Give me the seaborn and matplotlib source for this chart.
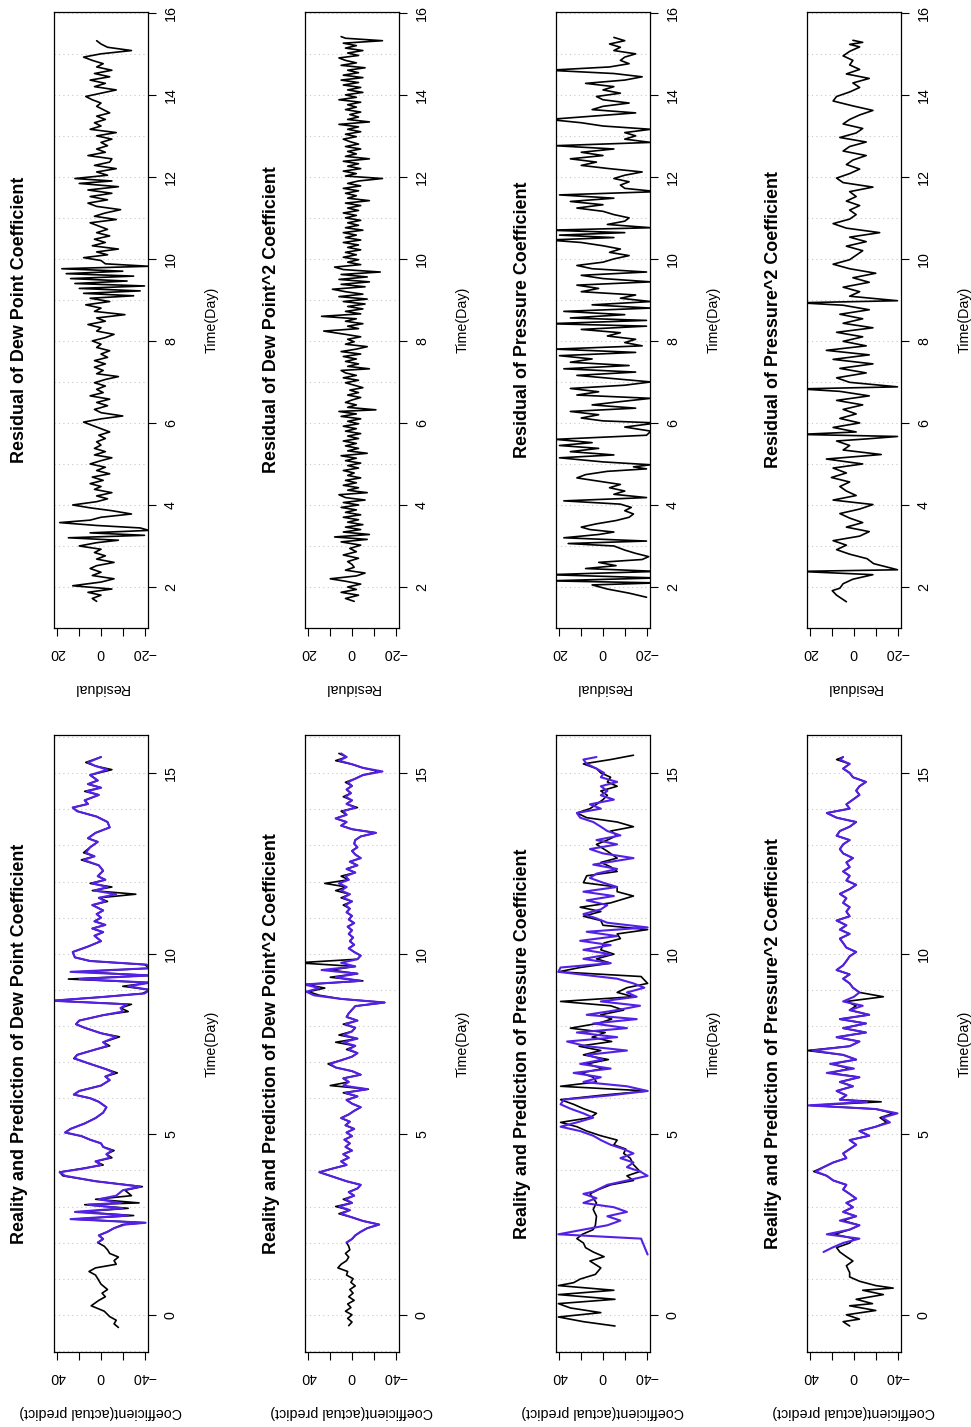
import numpy as np
import matplotlib
matplotlib.use("Agg")
import matplotlib.pyplot as plt
from matplotlib.ticker import MultipleLocator
import seaborn as sns

sns.set_style("white")
plt.rcParams['font.family'] = ['Liberation Sans', 'DejaVu Sans']
plt.rcParams.update({'text.color': 'black', 'axes.labelcolor': 'black',
                     'xtick.color': 'black', 'ytick.color': 'black'})

# ---- data: (day, value) ----
dew_actual = [(-0.35,-16),(-0.25,-12),(-0.15,-14),(-0.05,-8),(0.1,-3),(0.25,9),(0.4,2),(0.5,-4),(0.6,-1),(0.7,-6),(0.85,0),(1.0,3),(1.1,5),(1.2,11),(1.3,5),(1.4,-14),(1.5,-12),(1.6,-16),(1.7,-8),(1.8,-6),(1.9,-3),(2.0,3),(2.1,-2),(2.2,2),(2.3,-6),(2.4,-12),(2.5,-20),(2.55,-40),(2.65,25),(2.75,-30),(2.85,20),(2.95,-25),(3.05,15),(3.1,-35),(3.2,5),(3.3,-28),(3.45,-22),(3.55,-38),(3.7,5),(3.85,35),(3.95,38),(4.05,18),(4.15,-2),(4.25,5),(4.35,-10),(4.45,-5),(4.55,-12),(4.65,-2),(4.75,0),(4.85,10),(4.95,18),(5.05,33),(5.15,28),(5.3,15),(5.45,5),(5.6,-2),(5.75,-5),(5.9,2),(6.0,10),(6.1,25),(6.2,20),(6.35,0),(6.5,-8),(6.6,-4),(6.7,-15),(6.8,-5),(6.95,10),(7.1,25),(7.2,22),(7.35,5),(7.45,-8),(7.55,-2),(7.7,-17),(7.8,0),(7.95,15),(8.05,23),(8.15,20),(8.3,-2),(8.4,-25),(8.5,-18),(8.6,-28),(8.7,45),(8.8,0),(8.9,-38),(9.0,-45),(9.1,-20),(9.2,-45),(9.3,30),(9.4,-45),(9.5,20),(9.6,-45),(9.7,-40),(9.8,10),(9.9,24),(10.05,26),(10.2,12),(10.35,0),(10.5,6),(10.6,-2),(10.7,8),(10.8,-4),(10.9,6),(11.0,0),(11.1,4),(11.2,-2),(11.35,8),(11.45,-6),(11.55,2),(11.65,-32),(11.75,8),(11.85,-10),(11.95,10),(12.05,-4),(12.15,3),(12.3,-2),(12.45,2),(12.6,18),(12.7,6),(12.8,16),(12.95,10),(13.1,3),(13.2,12),(13.35,5),(13.5,-8),(13.65,-6),(13.8,4),(13.95,22),(14.05,26),(14.15,12),(14.25,15),(14.4,2),(14.5,15),(14.6,0),(14.7,12),(14.8,3),(14.95,10),(15.1,-10),(15.2,5),(15.3,14),(15.45,0)]
dew_pred = [(2.0,3),(2.1,-2),(2.2,2),(2.3,-6),(2.4,-12),(2.5,-22),(2.55,-41),(2.65,28),(2.75,-25),(2.85,24),(2.95,-20),(3.05,12),(3.1,-18),(3.2,2),(3.3,-14),(3.45,-20),(3.55,-36),(3.7,5),(3.85,33),(3.95,38),(4.05,16),(4.15,0),(4.25,5),(4.35,-8),(4.45,-5),(4.55,-10),(4.65,-2),(4.75,0),(4.85,10),(4.95,18),(5.05,33),(5.15,28),(5.3,15),(5.45,5),(5.6,-2),(5.75,-5),(5.9,2),(6.0,10),(6.1,25),(6.2,20),(6.35,0),(6.5,-8),(6.6,-4),(6.7,-12),(6.8,-5),(6.95,10),(7.1,24),(7.2,22),(7.35,5),(7.45,-6),(7.55,-2),(7.7,-14),(7.8,0),(7.95,15),(8.05,23),(8.15,20),(8.3,-2),(8.4,-20),(8.5,-18),(8.6,-24),(8.7,45),(8.8,0),(8.9,-40),(9.0,-45),(9.1,-25),(9.2,-45),(9.3,20),(9.4,-45),(9.5,28),(9.6,-45),(9.7,-42),(9.8,10),(9.9,24),(10.05,26),(10.2,12),(10.35,0),(10.5,6),(10.6,-2),(10.7,8),(10.8,-4),(10.9,6),(11.0,0),(11.1,4),(11.2,-2),(11.35,8),(11.45,-4),(11.55,2),(11.65,-14),(11.75,6),(11.85,-6),(11.95,8),(12.05,-4),(12.15,3),(12.3,-2),(12.45,2),(12.6,16),(12.7,6),(12.8,14),(12.95,10),(13.1,3),(13.2,12),(13.35,5),(13.5,-8),(13.65,-6),(13.8,4),(13.95,22),(14.05,26),(14.15,12),(14.25,15),(14.4,2),(14.5,13),(14.6,0),(14.7,12),(14.8,3),(14.95,10),(15.1,-6),(15.2,5),(15.3,12),(15.45,0)]
dew_resid = [(1.65,2),(1.72,4),(1.8,0),(1.87,6),(1.95,-5),(2.03,13),(2.12,0),(2.2,-6),(2.28,4),(2.36,0),(2.45,5),(2.52,2),(2.6,-6),(2.68,2),(2.76,-2),(2.84,3),(2.92,0),(3.0,10),(3.08,2),(3.14,-8),(3.2,15),(3.26,-20),(3.32,5),(3.38,-22),(3.44,-18),(3.5,2),(3.57,19),(3.63,5),(3.7,0),(3.78,-14),(3.86,-5),(3.93,5),(4.0,13),(4.08,2),(4.15,-3),(4.22,2),(4.3,-5),(4.38,3),(4.45,0),(4.52,5),(4.6,-1),(4.68,4),(4.76,-4),(4.84,2),(4.92,-2),(5.0,5),(5.08,0),(5.15,-5),(5.22,3),(5.3,-2),(5.38,3),(5.46,0),(5.54,2),(5.62,-2),(5.7,1),(5.78,-4),(5.86,0),(5.94,4),(6.02,8),(6.1,0),(6.17,-10),(6.25,0),(6.33,3),(6.42,-3),(6.5,2),(6.58,-4),(6.66,5),(6.74,-1),(6.82,2),(6.9,-2),(6.98,3),(7.06,-2),(7.13,-8),(7.2,2),(7.28,-1),(7.36,3),(7.44,-2),(7.52,3),(7.6,-3),(7.68,0),(7.76,-4),(7.84,2),(7.92,0),(8.0,4),(8.08,-2),(8.16,-6),(8.24,2),(8.32,0),(8.4,6),(8.48,-2),(8.56,2),(8.64,-11),(8.72,3),(8.8,0),(8.88,7),(8.96,-4),(9.04,5),(9.1,-15),(9.16,8),(9.22,-18),(9.28,10),(9.34,-20),(9.4,12),(9.46,-12),(9.52,14),(9.58,-15),(9.64,16),(9.7,-10),(9.76,18),(9.82,-22),(9.88,-2),(9.96,0),(10.03,8),(10.1,-3),(10.17,2),(10.24,-8),(10.32,4),(10.4,-2),(10.48,3),(10.56,-4),(10.64,2),(10.72,-3),(10.8,1),(10.88,5),(10.96,-7),(11.04,3),(11.12,-2),(11.2,-9),(11.28,2),(11.36,6),(11.44,-3),(11.52,5),(11.6,-5),(11.68,6),(11.76,-8),(11.84,10),(11.9,-5),(11.96,12),(12.04,-3),(12.12,2),(12.2,-7),(12.28,3),(12.36,-4),(12.44,-5),(12.52,6),(12.6,-2),(12.68,2),(12.76,-3),(12.84,0),(12.92,-5),(13.0,2),(13.08,-7),(13.16,5),(13.24,0),(13.32,3),(13.4,-2),(13.48,2),(13.56,-4),(13.64,-1),(13.72,2),(13.8,0),(13.88,4),(13.96,7),(14.04,0),(14.12,-7),(14.2,3),(14.28,-2),(14.36,5),(14.44,-4),(14.52,3),(14.6,-5),(14.68,2),(14.76,-1),(14.84,4),(14.92,8),(15.0,0),(15.08,-14),(15.16,-3),(15.24,0),(15.32,2)]

dew2_actual = [(-0.3,3),(-0.2,0),(-0.1,4),(0.0,0),(0.1,6),(0.2,1),(0.3,4),(0.4,-2),(0.5,3),(0.6,-1),(0.7,2),(0.8,-3),(0.9,1),(1.0,-1),(1.1,5),(1.2,4),(1.3,13),(1.4,10),(1.5,5),(1.6,3),(1.7,6),(1.8,2),(1.9,3),(2.0,5),(2.1,0),(2.2,-3),(2.3,-8),(2.4,-14),(2.5,-25),(2.6,-10),(2.7,0),(2.8,12),(2.9,2),(3.0,15),(3.1,0),(3.2,8),(3.3,-2),(3.4,3),(3.5,-5),(3.6,-8),(3.7,5),(3.8,15),(3.95,30),(4.05,18),(4.15,5),(4.25,10),(4.35,3),(4.45,8),(4.55,0),(4.65,6),(4.75,2),(4.85,7),(4.95,0),(5.05,5),(5.15,-2),(5.25,6),(5.35,2),(5.45,10),(5.55,3),(5.65,-2),(5.75,-8),(5.85,0),(5.95,5),(6.05,-5),(6.15,8),(6.25,-15),(6.35,20),(6.45,3),(6.55,8),(6.65,-8),(6.75,0),(6.85,15),(6.95,22),(7.05,10),(7.15,0),(7.25,-5),(7.35,5),(7.45,-3),(7.55,15),(7.65,-5),(7.75,12),(7.85,0),(7.95,-3),(8.05,8),(8.15,-5),(8.25,5),(8.35,3),(8.45,0),(8.55,-3),(8.65,-30),(8.75,10),(8.85,30),(8.95,40),(9.05,25),(9.15,42),(9.25,-10),(9.35,20),(9.45,-5),(9.55,20),(9.65,-3),(9.75,50),(9.85,-5),(9.95,-8),(10.05,-2),(10.15,3),(10.25,-2),(10.35,2),(10.45,-1),(10.55,3),(10.65,0),(10.75,4),(10.85,-2),(10.95,3),(11.05,0),(11.15,5),(11.25,2),(11.35,8),(11.45,0),(11.55,10),(11.65,2),(11.75,15),(11.85,5),(11.95,25),(12.05,3),(12.15,10),(12.25,-3),(12.35,5),(12.45,-5),(12.55,2),(12.65,-8),(12.75,-3),(12.85,0),(12.95,-5),(13.05,-2),(13.15,-3),(13.25,-8),(13.35,-22),(13.45,0),(13.55,10),(13.65,5),(13.75,15),(13.85,5),(13.95,10),(14.05,-5),(14.15,5),(14.25,0),(14.35,8),(14.45,1),(14.55,5),(14.65,0),(14.75,6),(14.85,-3),(14.95,-10),(15.05,-25),(15.15,-10),(15.25,0),(15.35,15),(15.45,5),(15.55,12)]
dew2_pred = [(2.0,5),(2.1,0),(2.2,-3),(2.3,-8),(2.4,-14),(2.5,-25),(2.6,-10),(2.7,0),(2.8,10),(2.9,2),(3.0,12),(3.1,0),(3.2,6),(3.3,-2),(3.4,3),(3.5,-5),(3.6,-8),(3.7,5),(3.8,15),(3.95,30),(4.05,18),(4.15,5),(4.25,10),(4.35,3),(4.45,8),(4.55,0),(4.65,6),(4.75,2),(4.85,7),(4.95,0),(5.05,5),(5.15,-2),(5.25,6),(5.35,2),(5.45,10),(5.55,3),(5.65,-2),(5.75,-8),(5.85,0),(5.95,5),(6.05,-5),(6.15,6),(6.25,-14),(6.35,8),(6.45,3),(6.55,8),(6.65,-8),(6.75,0),(6.85,15),(6.95,20),(7.05,10),(7.15,0),(7.25,-5),(7.35,3),(7.45,-3),(7.55,8),(7.65,-5),(7.75,8),(7.85,0),(7.95,-3),(8.05,6),(8.15,-5),(8.25,5),(8.35,3),(8.45,0),(8.55,-3),(8.65,-30),(8.75,10),(8.85,35),(8.95,42),(9.05,30),(9.15,44),(9.25,-8),(9.35,15),(9.45,-5),(9.55,28),(9.65,-3),(9.75,10),(9.85,-5),(9.95,-8),(10.05,-2),(10.15,3),(10.25,-2),(10.35,2),(10.45,-1),(10.55,3),(10.65,0),(10.75,4),(10.85,-2),(10.95,3),(11.05,0),(11.15,5),(11.25,2),(11.35,6),(11.45,0),(11.55,8),(11.65,2),(11.75,10),(11.85,5),(11.95,12),(12.05,3),(12.15,6),(12.25,-3),(12.35,5),(12.45,-5),(12.55,2),(12.65,-8),(12.75,-3),(12.85,0),(12.95,-5),(13.05,-2),(13.15,-3),(13.25,-8),(13.35,-22),(13.45,0),(13.55,10),(13.65,5),(13.75,15),(13.85,5),(13.95,8),(14.05,-3),(14.15,5),(14.25,0),(14.35,6),(14.45,1),(14.55,5),(14.65,0),(14.75,4),(14.85,-3),(14.95,-10),(15.05,-28),(15.15,-10),(15.25,0),(15.35,12),(15.45,5),(15.55,10)]
dew2_resid = [(1.65,-1),(1.72,3),(1.8,-3),(1.87,5),(1.94,-2),(2.0,2),(2.07,-4),(2.14,3),(2.2,10),(2.27,-2),(2.34,-6),(2.41,3),(2.48,-1),(2.55,0),(2.62,2),(2.7,-3),(2.78,4),(2.86,-2),(2.94,1),(3.02,-4),(3.1,5),(3.16,-7),(3.22,8),(3.28,-8),(3.34,4),(3.4,-4),(3.46,3),(3.52,-5),(3.58,2),(3.64,-3),(3.7,4),(3.76,-4),(3.82,3),(3.88,-2),(3.94,5),(4.0,-3),(4.06,4),(4.12,-6),(4.18,3),(4.25,6),(4.3,-7),(4.36,2),(4.42,-3),(4.48,4),(4.54,-2),(4.6,3),(4.66,-4),(4.72,2),(4.78,-1),(4.84,4),(4.9,-3),(4.96,2),(5.02,-4),(5.08,3),(5.14,-2),(5.2,5),(5.26,-7),(5.32,2),(5.38,-3),(5.44,3),(5.5,-2),(5.56,4),(5.62,-3),(5.68,2),(5.74,-4),(5.8,3),(5.86,-2),(5.92,4),(5.98,-3),(6.04,2),(6.1,-4),(6.16,5),(6.22,-2),(6.28,6),(6.32,-11),(6.38,2),(6.44,-2),(6.5,3),(6.56,0),(6.62,-4),(6.68,2),(6.74,-3),(6.8,1),(6.86,-5),(6.92,-1),(6.98,3),(7.04,-3),(7.1,4),(7.16,-2),(7.22,3),(7.28,5),(7.32,-8),(7.38,2),(7.44,-3),(7.5,3),(7.56,-2),(7.62,4),(7.68,-4),(7.74,5),(7.8,-2),(7.86,-7),(7.92,3),(7.98,-1),(8.04,2),(8.1,-4),(8.16,3),(8.24,13),(8.3,-3),(8.36,2),(8.42,-5),(8.48,3),(8.54,-2),(8.6,14),(8.66,-4),(8.72,3),(8.78,-5),(8.84,2),(8.9,-6),(8.96,4),(9.02,-7),(9.08,6),(9.14,-5),(9.2,3),(9.26,9),(9.32,-6),(9.38,5),(9.44,-8),(9.5,6),(9.56,-7),(9.62,5),(9.68,-13),(9.74,4),(9.8,8),(9.86,-4),(9.92,2),(9.98,-3),(10.04,4),(10.1,-2),(10.16,3),(10.22,-4),(10.28,2),(10.34,-3),(10.4,4),(10.46,-4),(10.52,3),(10.58,-2),(10.64,4),(10.7,-5),(10.76,3),(10.82,-3),(10.88,2),(10.94,-4),(11.0,3),(11.06,-2),(11.12,4),(11.18,-3),(11.24,2),(11.3,-4),(11.36,3),(11.42,-8),(11.48,2),(11.54,-2),(11.6,3),(11.66,-3),(11.72,4),(11.78,-4),(11.84,2),(11.9,-3),(11.96,-14),(12.02,3),(12.08,-2),(12.14,4),(12.2,-4),(12.26,2),(12.32,-3),(12.38,4),(12.44,-8),(12.5,3),(12.56,-2),(12.62,2),(12.68,-4),(12.74,3),(12.8,-3),(12.86,1),(12.92,4),(12.98,-2),(13.04,3),(13.1,-4),(13.16,2),(13.22,-3),(13.28,6),(13.34,-8),(13.4,2),(13.46,-3),(13.52,1),(13.58,-4),(13.64,3),(13.7,-2),(13.76,2),(13.82,-4),(13.88,6),(13.94,-2),(14.0,3),(14.06,-5),(14.12,2),(14.18,-4),(14.24,4),(14.3,-3),(14.36,5),(14.42,-5),(14.48,4),(14.54,-3),(14.6,2),(14.66,-6),(14.72,5),(14.78,-2),(14.84,3),(14.9,6),(14.96,-3),(15.02,2),(15.08,-5),(15.14,3),(15.2,-2),(15.26,4),(15.32,-14),(15.38,3),(15.42,5)]

pres_actual = [(-0.31,-11),(-0.19,18),(-0.06,41),(0.06,2),(0.19,30),(0.31,41),(0.43,-11),(0.56,41),(0.68,-10),(0.81,41),(0.89,27),(0.99,21),(1.12,7),(1.3,2),(1.49,12),(1.61,-1),(1.74,9),(1.86,16),(1.99,18),(2.11,24),(2.23,19),(2.36,9),(2.48,7),(2.73,6),(2.92,9),(3.1,6),(3.23,9),(3.35,12),(3.47,4),(3.6,-7),(3.72,-28),(3.85,-22),(3.97,-34),(4.16,-28),(4.34,-25),(4.47,-19),(4.59,-21),(4.71,-10),(4.84,-13),(4.96,2),(5.09,15),(5.21,24),(5.33,39),(5.46,12),(5.58,6),(5.71,18),(5.83,27),(5.96,39),(6.08,2),(6.2,-41),(6.33,39),(6.45,6),(6.58,9),(6.7,20),(6.82,0),(6.95,15),(7.07,-5),(7.2,18),(7.32,2),(7.44,22),(7.57,-8),(7.69,10),(7.82,-2),(7.94,30),(8.07,5),(8.19,-8),(8.31,2),(8.44,-19),(8.56,-7),(8.68,39),(8.81,-28),(8.93,-13),(9.06,-22),(9.18,-41),(9.37,-35),(9.5,41),(9.62,21),(9.74,-7),(9.86,6),(9.99,-10),(10.11,2),(10.3,-1),(10.42,-16),(10.55,-13),(10.67,-41),(10.79,0),(10.92,2),(11.04,18),(11.17,2),(11.29,21),(11.41,-7),(11.6,-28),(11.72,-13),(11.85,-13),(11.97,18),(12.16,15),(12.28,-13),(12.41,-7),(12.53,2),(12.65,-13),(12.84,-4),(13.03,6),(13.15,-4),(13.28,-13),(13.4,-7),(13.52,-28),(13.65,-13),(13.77,15),(13.9,24),(14.02,12),(14.14,6),(14.27,0),(14.39,-4),(14.51,2),(14.64,-13),(14.76,-4),(14.89,-7),(15.01,2),(15.13,6),(15.26,18),(15.38,-7),(15.5,-28)]
pres_pred = [(1.67,-41),(2.11,-35),(2.23,41),(2.36,18),(2.48,-4),(2.61,-16),(2.73,-4),(2.85,-22),(2.98,-10),(3.1,18),(3.23,6),(3.35,18),(3.41,9),(3.6,-4),(3.72,-22),(3.85,-41),(3.97,-34),(4.09,-22),(4.22,-28),(4.34,-16),(4.47,-28),(4.59,-19),(4.71,-7),(4.84,2),(4.96,9),(5.09,21),(5.21,39),(5.33,24),(5.46,9),(5.58,18),(5.71,30),(5.83,39),(5.96,36),(6.08,-7),(6.2,-41),(6.33,-22),(6.45,18),(6.58,2),(6.7,27),(6.82,-7),(6.95,21),(7.07,0),(7.2,15),(7.32,-22),(7.44,15),(7.57,33),(7.69,-13),(7.82,24),(7.94,-22),(8.07,9),(8.19,-31),(8.31,15),(8.44,-13),(8.56,-34),(8.68,2),(8.81,-31),(8.93,-22),(9.06,-38),(9.18,-28),(9.31,-13),(9.5,41),(9.62,39),(9.74,-7),(9.86,18),(9.99,-7),(10.11,18),(10.24,-7),(10.36,21),(10.49,-13),(10.61,15),(10.73,-41),(10.86,-4),(10.98,6),(11.1,18),(11.23,2),(11.35,-4),(11.48,15),(11.6,-10),(11.72,18),(11.85,-13),(11.97,0),(12.1,12),(12.22,6),(12.35,-13),(12.47,9),(12.65,-28),(12.78,0),(12.9,12),(13.03,-13),(13.15,6),(13.28,-16),(13.4,-4),(13.52,2),(13.65,9),(13.77,21),(13.9,24),(14.02,2),(14.14,12),(14.27,-10),(14.39,2),(14.51,-4),(14.64,2),(14.76,-13),(14.89,2),(15.01,-1),(15.13,6),(15.26,15),(15.38,18),(15.45,6)]
pres_resid = [(1.75,-20),(1.85,-12),(1.95,-2),(2.05,5),(2.1,-25),(2.15,25),(2.22,-25),(2.3,25),(2.38,-25),(2.45,8),(2.52,-6),(2.6,2),(2.67,-18),(2.74,-21),(2.82,-15),(2.9,-10),(3.0,-5),(3.06,16),(3.12,-20),(3.2,18),(3.28,2),(3.34,-5),(3.4,6),(3.46,10),(3.54,3),(3.62,-6),(3.7,-12),(3.78,-14),(3.86,-10),(3.94,-13),(4.02,-8),(4.1,18),(4.18,-20),(4.26,-5),(4.34,-10),(4.42,-3),(4.5,-8),(4.58,2),(4.66,12),(4.74,8),(4.82,-2),(4.88,-20),(4.93,-14),(4.98,-22),(5.05,0),(5.15,20),(5.22,-5),(5.3,15),(5.38,2),(5.45,20),(5.52,5),(5.6,22),(5.7,-20),(5.8,-22),(5.9,-10),(6.0,-25),(6.05,0),(6.12,10),(6.2,2),(6.28,15),(6.36,-15),(6.44,5),(6.52,-8),(6.6,-22),(6.68,12),(6.76,2),(6.84,15),(6.92,-10),(7.0,-22),(7.08,-5),(7.16,12),(7.24,-15),(7.32,18),(7.4,-12),(7.48,15),(7.56,5),(7.64,20),(7.72,-15),(7.8,22),(7.88,-18),(7.96,-10),(8.04,-15),(8.12,-2),(8.2,-8),(8.28,10),(8.36,-20),(8.42,25),(8.5,-20),(8.56,15),(8.64,-10),(8.72,18),(8.8,-22),(8.88,5),(8.96,-22),(9.04,-8),(9.12,-15),(9.2,10),(9.28,2),(9.36,12),(9.44,-22),(9.52,0),(9.6,10),(9.68,-20),(9.76,5),(9.84,12),(9.92,0),(10.0,-5),(10.08,-12),(10.16,-3),(10.24,-8),(10.32,0),(10.4,10),(10.46,25),(10.52,-5),(10.58,20),(10.64,-10),(10.7,25),(10.76,-22),(10.84,-2),(10.92,-10),(11.0,-12),(11.08,-5),(11.16,0),(11.24,12),(11.32,0),(11.4,15),(11.48,-5),(11.56,20),(11.64,-25),(11.72,-10),(11.8,-8),(11.88,-12),(11.96,-5),(12.04,-10),(12.12,-18),(12.2,-3),(12.28,10),(12.36,3),(12.44,15),(12.52,0),(12.6,10),(12.68,-5),(12.76,22),(12.84,-22),(12.92,-10),(13.0,-15),(13.08,-10),(13.16,-22),(13.24,0),(13.32,10),(13.4,25),(13.48,5),(13.56,-15),(13.64,5),(13.72,0),(13.8,-12),(13.88,0),(13.96,3),(14.04,-8),(14.12,0),(14.2,-5),(14.28,8),(14.36,-10),(14.44,-18),(14.52,-5),(14.6,25),(14.68,-3),(14.76,-12),(14.84,-8),(14.92,-10),(15.0,-15),(15.08,-5),(15.16,-8),(15.24,-3),(15.32,-10),(15.4,-5)]

pres2_actual = [(-0.31,4),(-0.19,10),(-0.12,-5),(0.0,7),(0.12,-20),(0.25,4),(0.31,-17),(0.43,-2),(0.56,-27),(0.68,-8),(0.74,-36),(0.81,-20),(0.93,-5),(1.05,4),(1.17,4),(1.36,7),(1.49,1),(1.61,7),(1.74,13),(1.86,16),(1.99,4),(2.11,0),(2.23,18),(2.36,4),(2.48,-5),(2.61,10),(2.73,-2),(2.85,10),(2.98,1),(3.1,7),(3.22,-2),(3.35,4),(3.47,10),(3.6,7),(3.72,19),(3.85,25),(3.97,37),(4.09,28),(4.22,19),(4.34,7),(4.47,10),(4.59,4),(4.71,-2),(4.84,4),(4.96,-14),(5.09,-5),(5.21,-20),(5.33,-30),(5.46,-24),(5.58,-36),(5.7,-20),(5.8,40),(5.9,-25),(5.96,13),(6.08,7),(6.2,16),(6.33,1),(6.45,13),(6.58,-5),(6.7,22),(6.82,4),(6.95,20),(7.07,-2),(7.2,10),(7.32,43),(7.44,4),(7.57,-5),(7.69,16),(7.82,-11),(7.94,10),(8.07,-11),(8.19,13),(8.31,-14),(8.44,4),(8.56,-2),(8.68,7),(8.81,-27),(8.93,-5),(9.06,1),(9.18,4),(9.31,10),(9.43,4),(9.55,16),(9.68,10),(9.8,7),(9.93,4),(10.05,-2),(10.17,7),(10.3,10),(10.42,13),(10.55,4),(10.67,13),(10.79,7),(10.92,16),(11.04,4),(11.17,7),(11.29,4),(11.41,10),(11.54,7),(11.66,13),(11.79,4),(11.91,-2),(12.03,7),(12.16,4),(12.28,10),(12.4,4),(12.53,7),(12.65,1),(12.78,10),(12.9,13),(13.03,10),(13.15,4),(13.27,16),(13.4,13),(13.52,4),(13.65,-2),(13.77,16),(13.9,25),(14.02,4),(14.14,7),(14.27,1),(14.4,-5),(14.52,-2),(14.64,-5),(14.76,-11),(14.89,1),(15.01,4),(15.13,10),(15.26,4),(15.38,16),(15.45,10)]
pres2_pred = [(1.74,28),(1.86,20),(1.99,10),(2.11,-5),(2.23,25),(2.36,4),(2.48,-5),(2.61,13),(2.73,-2),(2.85,10),(2.98,1),(3.1,7),(3.22,-2),(3.35,4),(3.47,10),(3.6,7),(3.72,19),(3.85,25),(3.97,35),(4.09,28),(4.22,19),(4.34,7),(4.47,10),(4.59,4),(4.71,-2),(4.84,4),(4.96,-14),(5.09,-5),(5.21,-20),(5.33,-33),(5.46,-26),(5.58,-40),(5.7,-20),(5.8,42),(5.9,-12),(5.96,13),(6.08,7),(6.2,16),(6.33,1),(6.45,13),(6.58,-5),(6.7,25),(6.82,0),(6.95,22),(7.07,-2),(7.2,10),(7.32,38),(7.44,4),(7.57,-5),(7.69,16),(7.82,-11),(7.94,10),(8.07,-11),(8.19,13),(8.31,-14),(8.44,4),(8.56,-8),(8.68,10),(8.81,0),(8.93,-5),(9.06,1),(9.18,4),(9.31,10),(9.43,4),(9.55,16),(9.68,10),(9.8,7),(9.93,4),(10.05,-2),(10.17,7),(10.3,10),(10.42,13),(10.55,4),(10.67,13),(10.79,7),(10.92,16),(11.04,4),(11.17,7),(11.29,4),(11.41,10),(11.54,7),(11.66,13),(11.79,4),(11.91,-2),(12.03,7),(12.16,4),(12.28,10),(12.4,4),(12.53,7),(12.65,1),(12.78,10),(12.9,13),(13.03,10),(13.15,4),(13.27,16),(13.4,13),(13.52,4),(13.65,-2),(13.77,16),(13.9,25),(14.02,4),(14.14,7),(14.27,1),(14.4,-5),(14.52,-2),(14.64,-5),(14.76,-11),(14.89,1),(15.01,4),(15.13,10),(15.26,4),(15.38,13),(15.45,10)]
pres2_resid = [(1.64,3.5),(1.8,8),(1.91,10),(1.97,6.5),(2.08,5),(2.19,0.5),(2.3,-8.7),(2.38,25),(2.42,-20),(2.57,-9),(2.69,-6),(2.8,2),(2.91,8),(3.02,3.5),(3.13,9.6),(3.24,-2.6),(3.35,-7),(3.46,3.5),(3.57,-4),(3.68,2),(3.79,6.5),(3.9,-2.6),(4.01,-8.7),(4.12,9.6),(4.23,-1),(4.34,3.5),(4.45,6.5),(4.56,2),(4.67,10.4),(4.78,3.5),(4.9,9.6),(5.0,-4),(5.12,12.7),(5.23,-12.5),(5.34,5),(5.45,2),(5.56,8),(5.61,-5.6),(5.67,-20),(5.72,25),(5.78,-1),(5.89,9.6),(6.0,-2.6),(6.11,6.5),(6.22,-1),(6.33,5),(6.44,-4),(6.55,8),(6.66,-7),(6.77,6.5),(6.83,25),(6.88,-20),(6.99,2),(7.1,8),(7.22,-5.6),(7.33,6.5),(7.44,-8.7),(7.55,9.6),(7.66,-7),(7.77,12.7),(7.88,-5.6),(7.99,5),(8.1,-4),(8.21,8),(8.32,-8.7),(8.43,5),(8.54,-4),(8.65,6.5),(8.76,-7),(8.87,5),(8.93,25),(8.98,-20),(9.09,2),(9.2,-2.6),(9.31,5),(9.43,-7),(9.54,0.5),(9.65,-10),(9.76,2),(9.87,9.6),(9.98,2),(10.09,-1),(10.2,-4),(10.31,3.5),(10.42,-5.6),(10.53,2),(10.64,-11.8),(10.75,3.5),(10.86,9.6),(10.97,2),(11.08,-1),(11.19,2),(11.3,-2.6),(11.41,3.5),(11.52,-1),(11.64,2),(11.75,-8.7),(11.86,5),(11.97,8),(12.08,2),(12.19,-2.6),(12.3,3.5),(12.41,0.5),(12.52,-5.6),(12.63,5),(12.74,2),(12.85,-5.6),(12.96,6.5),(13.07,-1),(13.18,-4),(13.29,5),(13.4,2),(13.51,-2.6),(13.62,-8.7),(13.73,0.5),(13.85,9.6),(13.96,8),(14.07,2),(14.18,-2.6),(14.29,0.5),(14.4,-7),(14.51,3.5),(14.62,-2.6),(14.73,2),(14.84,0.5),(14.95,5),(15.06,2),(15.17,-2.6),(15.23,2),(15.28,-4),(15.33,0.5)]

names = ["Dew Point", "Dew Point^2", "Pressure", "Pressure^2"]
actual_sets = [dew_actual, dew2_actual, pres_actual, pres2_actual]
pred_sets = [dew_pred, dew2_pred, pres_pred, pres2_pred]
resid_sets = [dew_resid, dew2_resid, pres_resid, pres2_resid]

coef_ticks = [40, 20, 0, -20, -40]
coef_labels = ["40", "", "0", "", "\u221240"]
resid_ticks = [20, 10, 0, -10, -20]
resid_labels = ["20", "", "0", "", "\u221220"]
day_ticks_left = [0, 5, 10, 15]
day_ticks_right = [2, 4, 6, 8, 10, 12, 14, 16]

# ---- layout (page is the landscape original turned a quarter turn) ----
W, H = 971, 1427
BLUE = "#5420e8"
FS_TICK, FS_LAB, FS_TITLE = 10.3, 10.3, 12.9

fig = plt.figure(figsize=(W / 100, H / 100), dpi=100)


def frac(x, y):
    return x / W, 1 - y / H


def make_axes(left, top, width, height):
    return fig.add_axes([left / W, 1 - (top + height) / H, width / W, height / H])


def style(ax, vlim, vticks, vlabels, tlim, tticks):
    ax.set_xlim(vlim, -vlim)
    ax.set_ylim(*tlim)
    ax.set_xticks(vticks)
    ax.set_xticklabels(vlabels, rotation=180, fontsize=FS_TICK)
    ax.yaxis.tick_right()
    ax.set_yticks(tticks)
    ax.set_yticklabels([str(t) for t in tticks], rotation=90, va="center", fontsize=FS_TICK)
    ax.yaxis.set_minor_locator(MultipleLocator(1))
    ax.tick_params(axis="x", which="major", direction="out", length=6, width=0.8, pad=7, bottom=True)
    ax.tick_params(axis="y", which="major", direction="out", length=6, width=0.8, pad=5.5, right=True, left=False)
    ax.tick_params(axis="y", which="minor", length=0)
    ax.grid(axis="y", which="both", color="#c8c8c8", linestyle=(0, (1, 3)), linewidth=0.8)
    ax.grid(axis="x", visible=False)
    ax.set_axisbelow(True)
    ax.set_xlabel("")
    ax.set_ylabel("")
    for s in ax.spines.values():
        s.set_visible(True)
        s.set_color("black")
        s.set_linewidth(0.9)


for k in range(4):
    x0 = 54 + 251 * k
    cx = x0 + 47

    # reality vs prediction (lower half)
    ax = make_axes(x0, 735, 94, 617)
    at, av = np.array(actual_sets[k]).T
    pt, pv = np.array(pred_sets[k]).T
    sns.lineplot(x=av, y=at, sort=False, estimator=None, color="black", linewidth=1.2, ax=ax)
    sns.lineplot(x=pv, y=pt, sort=False, estimator=None, color=BLUE, linewidth=1.5, ax=ax)
    style(ax, 43.2, coef_ticks, coef_labels, (-1.03, 16.06), day_ticks_left)
    fig.text(*frac(20 + 251 * k, 1043.5), f"Reality and Prediction of {names[k]} Coefficient",
             rotation=90, ha="center", va="center", fontsize=FS_TITLE, fontweight="bold")
    fig.text(*frac(cx, 1412), "Coefficient(actual predict)", rotation=180,
             ha="center", va="center", fontsize=FS_LAB)
    fig.text(*frac(212 + 251 * k, 1043.5), "Time(Day)", rotation=90,
             ha="center", va="center", fontsize=FS_LAB)

    # residual (upper half)
    ax = make_axes(x0, 12, 94, 616)
    rt, rv = np.array(resid_sets[k]).T
    sns.lineplot(x=rv, y=rt, sort=False, estimator=None, color="black", linewidth=1.2, ax=ax)
    style(ax, 21.6, resid_ticks, resid_labels, (1.0, 16.02), day_ticks_right)
    fig.text(*frac(20 + 251 * k, 320), f"Residual of {names[k]} Coefficient",
             rotation=90, ha="center", va="center", fontsize=FS_TITLE, fontweight="bold")
    fig.text(*frac(cx, 688), "Residual", rotation=180,
             ha="center", va="center", fontsize=FS_LAB)
    fig.text(*frac(212 + 251 * k, 320), "Time(Day)", rotation=90,
             ha="center", va="center", fontsize=FS_LAB)

fig.savefig("out.png", dpi=100)
